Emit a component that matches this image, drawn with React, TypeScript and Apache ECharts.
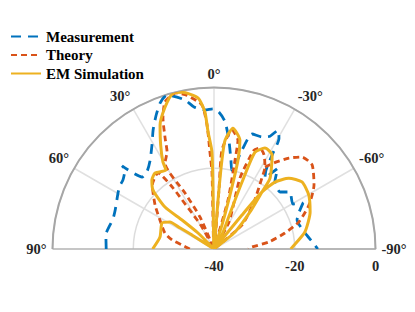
import React, { useEffect, useRef } from "react";
import * as echarts from "echarts";

const seriesNames = ["Measurement", "Theory", "EM Simulation"];
const angleTicks = [-90, -60, -30, 0, 30, 60, 90];
const radiusTicks = [-40, -20, 0];

// Measurement (angle in degrees, level in dB)
const measAngle = [90, 82.6, 73.5, 68.5, 59.3, 55.8, 52.8, 48.4, 47.9, 45, 40.7, 35.7, 30.8, 27.1, 23.4, 20.3, 17, 11, 8, 3.7, 0.4, -2.1, -5, -7.8, -10.8, -12.8, -15.8, -18.3, -23.2, -26.4, -28.3, -30.4, -31.7, -33.4, -35.7, -38.3, -42.3, -49.2, -53.1, -60.3, -62.7, -66.5, -70.7, -78, -86.5, -90];
const measDb = [-13.3, -13, -13.9, -13.7, -12.4, -11.9, -11.7, -10.5, -9.3, -14.8, -14.6, -12.9, -10, -6.9, -3.9, -1.5, -0.1, -2.4, -4.5, -5.5, -5.3, -6.1, -8.4, -12.8, -17.6, -20, -14.5, -10, -9.8, -8.8, -6.6, -8.2, -12.6, -16.6, -18.4, -14.5, -17.6, -18.4, -16.5, -17.5, -15.2, -17, -18.2, -17.5, -15.4, -14.3];

// Theory (null = break in the trace)
const theoryAngle = [90, 82.9, 77.9, 71.9, 61.8, 53.3, 44, 36.4, 34, 33, 31.4, 28.6, 26, 23.6, 27.4, 29.7, 25.8, 23.8, 21.3, 18.4, 13.7, 9.9, 4.8, 3.2, 2.4, 1.5, 0.5, -4.8, -4.6, -8.6, -12.4, -13.3, -16, -18, -29, -20.1, -22, -24.5, -28, -31.9, -34, -40.4, -49.4, -52, -52, -31.9, -34.9, -39.5, -43.7, -49.4, -57.4, -65.2, -72.4, -77.3, -82.7, -87, -90];
const theoryDb = [-34, -32, -29.4, -27.2, -24.8, -21.8, -18, -16.6, -21.4, -25.5, -29.6, -33.8, -40, -31.4, -24.4, -15.5, -13.3, -10, -5.2, -1.6, -0.2, -1.4, -4.2, -9.3, -16, -21, -40, -25.4, -15.4, -10.2, -12.4, -17.4, -27.4, -40, -32.3, -21.3, -13.6, -12.5, -13.6, -16.1, -18.8, -24.7, -30.9, -40, null, -16.1, -14, -10.8, -8.5, -8, -10.6, -14.1, -18, -22, -26.3, -30.6, -31.5];

// EM Simulation
const emAngle = [90, 77.5, 63.4, 58.5, 58.2, 57.5, 52, 45, 47.8, 49.4, 46, 42, 37.8, 31.3, 30.4, 27.1, 23.5, 19, 15, 11.5, 6, 3.8, 2.9, 1.2, 1, 0, -4.7, -5.1, -5.8, -8.9, -13.4, -15.1, -16.5, -18.4, -22, -29.7, -23.7, -22.7, -22.9, -26.8, -31.7, -38.3, -40.1, -44.2, -51, -45, -39.5, -40.1, -42.3, -46.6, -52.7, -60.4, -69, -79.4, -89, -90];
const emDb = [-24.8, -26.3, -25.6, -27.2, -29.6, -33.5, -40, -34.4, -29.3, -24, -19, -17, -16.2, -17.1, -15, -11, -6.5, -2.8, -0.2, -0.4, -2.4, -6, -11, -16, -27.9, -40, -27.8, -17.9, -12.9, -9.7, -12.3, -17.2, -26.1, -33.7, -40, -36, -28.9, -22, -14, -12, -12.6, -17.6, -21.6, -27.2, -33.3, -40, -29.1, -21.6, -17.6, -14.5, -12.6, -13, -14.5, -17.1, -20.7, -21];

const FONT = "'Liberation Serif', 'Times New Roman', serif";

function toData(angles: number[], dbs: (number | null)[]) {
  return angles.map((a, i) => (dbs[i] === null ? ["-", "-"] : [dbs[i], a]));
}

export default function App() {
  const ref = useRef<HTMLDivElement>(null);
  useEffect(() => {
    const chart = echarts.init(ref.current!, null, { renderer: "svg" });
    const common = { type: "line", coordinateSystem: "polar", symbol: "none", showSymbol: false, smooth: 0.2, connectNulls: false };
    chart.setOption({
      animation: false,
      backgroundColor: "#ffffff",
      legend: {
        orient: "vertical",
        left: 10,
        top: 29,
        padding: 0,
        itemWidth: 30,
        itemHeight: 14,
        itemGap: 3.5,
        data: seriesNames,
        itemStyle: { opacity: 0 },
        textStyle: { fontFamily: FONT, fontWeight: "bold", fontSize: 15, color: "#000" },
      },
      polar: { center: [214, 249], radius: 161.5 },
      angleAxis: {
        type: "value",
        min: angleTicks[0],
        max: angleTicks[angleTicks.length - 1],
        interval: 30,
        startAngle: 0,
        endAngle: 180,
        clockwise: false,
        axisLine: { show: true, lineStyle: { color: "#a6a6a6", width: 2 } },
        axisTick: { show: false },
        axisLabel: {
          margin: 6,
          formatter: (v: number) => `${v}°`,
          fontFamily: FONT,
          fontWeight: "bold",
          fontSize: 14.5,
          color: "#262626",
        },
        splitLine: {
          show: true,
          lineStyle: { color: ["#b3b3b3", "#e0e0e0", "#e0e0e0", "#e0e0e0", "#e0e0e0", "#e0e0e0", "#b3b3b3"], width: 1.5 },
        },
      },
      radiusAxis: {
        type: "value",
        min: radiusTicks[0],
        max: radiusTicks[radiusTicks.length - 1],
        interval: 20,
        axisLine: { show: true, lineStyle: { color: "#b3b3b3", width: 1.5 } },
        axisTick: { show: false },
        axisLabel: {
          margin: -9,
          verticalAlign: "top",
          fontFamily: FONT,
          fontWeight: "bold",
          fontSize: 14.5,
          color: "#262626",
        },
        splitLine: { show: true, lineStyle: { color: "#dcdcdc", width: 1.5 } },
      },
      series: [
        { ...common, name: seriesNames[0], data: toData(measAngle, measDb), lineStyle: { color: "#0072BD", width: 2.8, type: [10, 7] }, itemStyle: { color: "#0072BD" } },
        { ...common, name: seriesNames[1], data: toData(theoryAngle, theoryDb), lineStyle: { color: "#D95319", width: 2.8, type: [6, 4] }, itemStyle: { color: "#D95319" } },
        { ...common, name: seriesNames[2], data: toData(emAngle, emDb), lineStyle: { color: "#EDB120", width: 3, type: "solid" }, itemStyle: { color: "#EDB120" } },
      ],
    });
    return () => chart.dispose();
  }, []);
  return <div ref={ref} style={{ position: "fixed", left: 0, top: 0, width: 415, height: 312 }} />;
}
